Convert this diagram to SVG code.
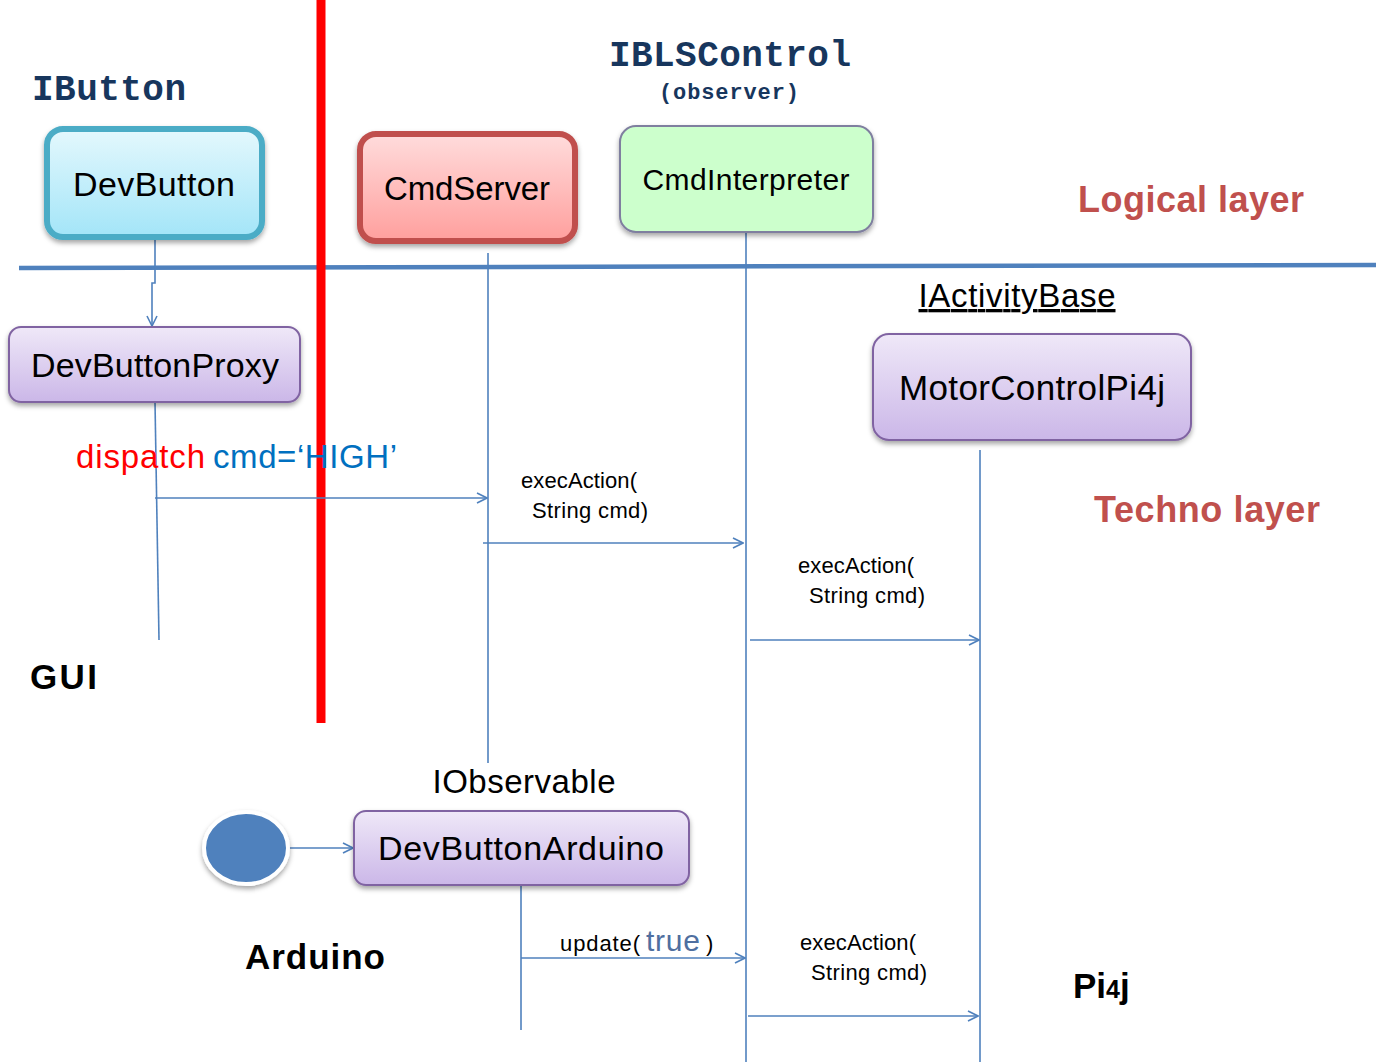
<svg xmlns="http://www.w3.org/2000/svg" width="1376" height="1064" viewBox="0 0 1376 1064">
<style>
.lbl{font-family:"Liberation Sans",Arial,sans-serif;fill:#000}
.mono{font-family:"Liberation Mono","Courier New",monospace;font-weight:bold;fill:#17365d}
.layer{font-family:"Liberation Sans",Arial,sans-serif;font-weight:bold;fill:#c0504d;font-size:36px}
.small{font-family:"Liberation Sans",Arial,sans-serif;font-size:22px;fill:#000}
.conn line,.conn polyline{stroke:#4f81bd;stroke-width:1.6;fill:none}
.arr{marker-end:url(#ah)}
.purple{fill:url(#gPurple);stroke:#8064a2;stroke-width:2;filter:url(#sh)}
</style>
<defs>
<linearGradient id="gCyan" x1="0" y1="0" x2="0" y2="1"><stop offset="0" stop-color="#e4f8fd"/><stop offset="1" stop-color="#a3e5f8"/></linearGradient>
<linearGradient id="gRed" x1="0" y1="0" x2="0" y2="1"><stop offset="0" stop-color="#ffdcdc"/><stop offset="1" stop-color="#ff9f9d"/></linearGradient>
<linearGradient id="gPurple" x1="0" y1="0" x2="0" y2="1"><stop offset="0" stop-color="#efe8f8"/><stop offset="1" stop-color="#cbb7e8"/></linearGradient>
<filter id="sh" x="-10%" y="-10%" width="120%" height="130%"><feDropShadow dx="0" dy="3" stdDeviation="2.5" flood-color="#000" flood-opacity="0.35"/></filter>
<marker id="ah" viewBox="0 0 12 12" refX="11" refY="6" markerWidth="12" markerHeight="12" markerUnits="userSpaceOnUse" orient="auto"><path d="M1,1 L11,6 L1,11" fill="none" stroke="#4f81bd" stroke-width="1.6"/></marker>
</defs>
<rect x="0" y="0" width="1376" height="1064" fill="#fff"/>

<g id="layers">
<line x1="19" y1="268" x2="1376" y2="265" stroke="#4f81bd" stroke-width="4.5"/>
<line x1="321" y1="0" x2="321" y2="723" stroke="#ff0000" stroke-width="9"/>
<text class="layer" x="1078" y="212" textLength="226">Logical layer</text>
<text class="layer" x="1094" y="522" textLength="226">Techno layer</text>
<text x="30" y="689" font-family="Liberation Sans,Arial,sans-serif" font-weight="bold" font-size="35" textLength="67">GUI</text>
<text x="245" y="969" font-family="Liberation Sans,Arial,sans-serif" font-weight="bold" font-size="35" textLength="140">Arduino</text>
<text x="1073" y="998" font-family="Liberation Sans,Arial,sans-serif" font-weight="bold" font-size="35">Pi<tspan font-size="25">4</tspan>j</text>
</g>

<g class="conn" id="connectors">
<polyline points="155,238 155,283 152,283 152,326" class="arr"/>
<line x1="155" y1="402" x2="159" y2="640"/>
<line x1="155" y1="498" x2="487" y2="498" class="arr"/>
<line x1="488" y1="253" x2="488" y2="763"/>
<line x1="483" y1="543" x2="743" y2="543" class="arr"/>
<line x1="746" y1="232" x2="746" y2="1062"/>
<line x1="750" y1="640" x2="979" y2="640" class="arr"/>
<line x1="980" y1="450" x2="980" y2="1062"/>
<line x1="289" y1="848" x2="353" y2="848" class="arr"/>
<line x1="521" y1="885" x2="521" y2="1030"/>
<line x1="521" y1="958" x2="745" y2="958" class="arr"/>
<line x1="748" y1="1016" x2="978" y2="1016" class="arr"/>
</g>

<g id="labels">
<text x="76" y="468" font-family="Liberation Sans,Arial,sans-serif" font-size="33" fill="#ff0000" textLength="129">dispatch</text>
<text x="213" y="468" font-family="Liberation Sans,Arial,sans-serif" font-size="33" fill="#0070c0" textLength="184">cmd=‘HIGH’</text>
<text class="small" x="521" y="488" textLength="116">execAction(</text>
<text class="small" x="532" y="518" textLength="116">String cmd)</text>
<text class="small" x="798" y="573" textLength="116">execAction(</text>
<text class="small" x="809" y="603" textLength="116">String cmd)</text>
<text class="small" x="800" y="950" textLength="116">execAction(</text>
<text class="small" x="811" y="980" textLength="116">String cmd)</text>
<text class="small" x="560" y="951" textLength="80">update(</text>
<text x="646" y="951" font-family="Liberation Sans,Arial,sans-serif" font-size="30" fill="#4f6fa0" textLength="54">true</text>
<text class="small" x="706" y="951">)</text>
</g>

<g id="IButton"><text class="mono" x="32" y="100" font-size="36" textLength="154">IButton</text></g>
<g id="DevButton">
<rect x="47" y="129" width="215" height="108" rx="16" fill="url(#gCyan)" stroke="#4bacc6" stroke-width="6" filter="url(#sh)"/>
<text class="lbl" x="154" y="196" font-size="34" text-anchor="middle" textLength="162">DevButton</text>
</g>
<g id="CmdServer">
<rect x="360" y="134" width="215" height="107" rx="16" fill="url(#gRed)" stroke="#c0504d" stroke-width="6" filter="url(#sh)"/>
<text class="lbl" x="467" y="200" font-size="33" text-anchor="middle" textLength="166">CmdServer</text>
</g>
<g id="IBLSControl">
<text class="mono" x="730" y="66" font-size="36" text-anchor="middle" textLength="242">IBLSControl</text>
<text class="mono" x="729" y="99" font-size="22" text-anchor="middle" textLength="140">(observer)</text>
</g>
<g id="CmdInterpreter">
<rect x="620" y="126" width="253" height="106" rx="16" fill="#ccffcc" stroke="#7f7f9f" stroke-width="2" filter="url(#sh)"/>
<text class="lbl" x="746" y="190" font-size="30" text-anchor="middle" textLength="207">CmdInterpreter</text>
</g>
<g id="DevButtonProxy">
<rect x="9" y="327" width="291" height="75" rx="12" class="purple"/>
<text class="lbl" x="155" y="377" font-size="34" text-anchor="middle" textLength="248">DevButtonProxy</text>
</g>
<g id="IActivityBase"><text class="lbl" x="1017" y="307" font-size="33" text-anchor="middle" text-decoration="underline" textLength="197">IActivityBase</text></g>
<g id="MotorControlPi4j">
<rect x="873" y="334" width="318" height="106" rx="16" class="purple"/>
<text class="lbl" x="1032" y="400" font-size="35" text-anchor="middle" textLength="266">MotorControlPi4j</text>
</g>
<g id="IObservable"><text class="lbl" x="524" y="793" font-size="33" text-anchor="middle" textLength="183">IObservable</text></g>
<g id="start">
<ellipse cx="246" cy="848" rx="42" ry="36" fill="#4f81bd" stroke="#fff" stroke-width="4" filter="url(#sh)"/>
</g>
<g id="DevButtonArduino">
<rect x="354" y="811" width="335" height="74" rx="12" class="purple"/>
<text class="lbl" x="521" y="860" font-size="34" text-anchor="middle" textLength="286">DevButtonArduino</text>
</g>
</svg>
